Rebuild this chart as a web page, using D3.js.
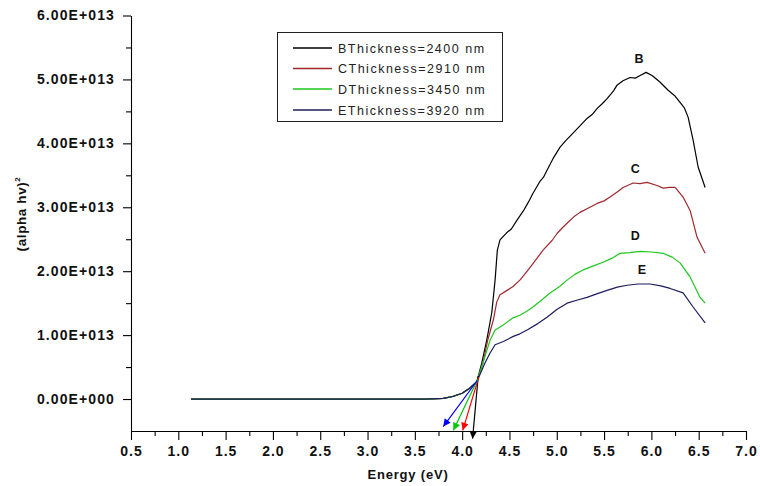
<!DOCTYPE html>
<html><head><meta charset="utf-8">
<script src="https://cdn.jsdelivr.net/npm/d3@7"></script>
<style>
body{margin:0;background:#fff;}
svg{display:block;}
</style></head>
<body><svg id="c" width="760" height="486"></svg>
<script>
// ---- data ----
const seriesNames = ["B", "C", "D", "E"];
const legendLabels = ["BThickness=2400 nm", "CThickness=2910 nm", "DThickness=3450 nm", "EThickness=3920 nm"];
const seriesColors = ["#000000", "#a0282d", "#1ec81e", "#1c1c5e"];
const arrowColors = ["#000000", "#ff0000", "#00c800", "#0000ff"];

const baseline = [[1.134,0],[2.0,0],[3.0,0],[3.6,0],[3.8,0.01],[3.9,0.04],[4.0,0.09],[4.08,0.17],[4.155,0.27]];
const seriesB = [[4.207,0.56],[4.26,0.92],[4.313,1.35],[4.348,1.86],[4.372,2.33],[4.40,2.49],[4.47,2.6],[4.52,2.66],[4.58,2.80],[4.65,2.95],[4.70,3.08],[4.749,3.22],[4.82,3.40],[4.86,3.47],[4.897,3.58],[4.96,3.76],[5.035,3.94],[5.10,4.05],[5.172,4.16],[5.25,4.28],[5.320,4.39],[5.38,4.46],[5.43,4.55],[5.48,4.62],[5.532,4.70],[5.60,4.82],[5.637,4.91],[5.70,4.98],[5.775,5.03],[5.83,5.02],[5.881,5.06],[5.944,5.11],[6.007,5.06],[6.09,4.96],[6.177,4.83],[6.25,4.74],[6.303,4.64],[6.35,4.55],[6.388,4.41],[6.441,4.05],[6.494,3.63],[6.568,3.31]];
const seriesC = [[4.22,0.56],[4.27,0.92],[4.33,1.24],[4.366,1.52],[4.40,1.63],[4.475,1.70],[4.538,1.76],[4.61,1.86],[4.66,1.95],[4.718,2.06],[4.79,2.20],[4.855,2.33],[4.95,2.48],[5.003,2.59],[5.06,2.68],[5.109,2.75],[5.18,2.85],[5.246,2.92],[5.35,3.00],[5.426,3.06],[5.50,3.10],[5.563,3.16],[5.65,3.25],[5.701,3.31],[5.807,3.38],[5.88,3.37],[5.955,3.39],[6.06,3.34],[6.124,3.30],[6.19,3.31],[6.251,3.31],[6.335,3.16],[6.409,2.95],[6.483,2.53],[6.568,2.28]];
const seriesD = [[4.24,0.66],[4.295,0.92],[4.348,1.08],[4.436,1.16],[4.538,1.27],[4.61,1.31],[4.68,1.37],[4.749,1.44],[4.85,1.56],[4.929,1.66],[5.03,1.76],[5.109,1.86],[5.19,1.95],[5.278,2.02],[5.38,2.08],[5.489,2.14],[5.58,2.20],[5.669,2.28],[5.77,2.29],[5.881,2.31],[6.0,2.30],[6.124,2.28],[6.22,2.22],[6.303,2.13],[6.409,1.91],[6.515,1.59],[6.568,1.50]];
const seriesE = [[4.24,0.56],[4.295,0.72],[4.348,0.85],[4.436,0.90],[4.54,0.98],[4.61,1.02],[4.686,1.08],[4.80,1.18],[4.897,1.28],[5.0,1.40],[5.109,1.50],[5.22,1.55],[5.320,1.59],[5.43,1.65],[5.532,1.70],[5.64,1.75],[5.743,1.78],[5.86,1.80],[5.986,1.80],[6.1,1.77],[6.198,1.73],[6.335,1.66],[6.441,1.44],[6.568,1.19]];
// tangent extrapolation arrows: [start, end] in (eV, 1e13 units)
const arrowStarts = [[4.17,0.36],[4.175,0.34],[4.165,0.31],[4.16,0.29]];
const arrowEnds = [[4.11,-0.62],[4.006,-0.49],[3.907,-0.49],[3.80,-0.43]];
// label positions for curve names (eV, 1e13 units)
const labelPos = [[5.87,5.26],[5.83,3.54],[5.83,2.49],[5.90,1.96]];
const xTicks = [0.5,1.0,1.5,2.0,2.5,3.0,3.5,4.0,4.5,5.0,5.5,6.0,6.5,7.0];
const yTicks = [0,1,2,3,4,5,6];
const yTickLabels = ["0.00E+000","1.00E+013","2.00E+013","3.00E+013","4.00E+013","5.00E+013","6.00E+013"];

// ---- drawing ----
const svg = d3.select("#c");
const x = d3.scaleLinear().domain([0.5, 7.0]).range([131, 746]);
const y = d3.scaleLinear().domain([-0.5, 6]).range([431, 15.5]);
const font = "'Liberation Sans', Arial, sans-serif";

const defs = svg.append("defs");
arrowColors.forEach((c, i) => {
  defs.append("marker").attr("id", "ah" + i)
    .attr("viewBox", "0 0 10 10").attr("refX", 10).attr("refY", 5)
    .attr("markerWidth", 9).attr("markerHeight", 7.5)
    .attr("markerUnits", "userSpaceOnUse").attr("orient", "auto")
    .append("path").attr("d", "M0,0 L10,5 L0,10 Z").attr("fill", c);
});

// axes
const xAxis = d3.axisBottom(x).tickValues(xTicks).tickFormat(d3.format(".1f")).tickSize(9).tickSizeOuter(0);
const gx = svg.append("g").attr("transform", `translate(0,${y(-0.5)})`).call(xAxis);
const xMinor = d3.axisBottom(x).tickValues(d3.range(0.75, 7.0, 0.5)).tickFormat("").tickSize(5).tickSizeOuter(0);
const gxm = svg.append("g").attr("transform", `translate(0,${y(-0.5)})`).call(xMinor);
gxm.select(".domain").remove();

const yAxis = d3.axisLeft(y).tickValues(yTicks).tickFormat((d, i) => yTickLabels[i]).tickSize(8).tickSizeOuter(0);
const gy = svg.append("g").attr("transform", `translate(${x(0.5)},0)`).call(yAxis);
const yMinor = d3.axisLeft(y).tickValues([0.5,1.5,2.5,3.5,4.5,5.5]).tickFormat("").tickSize(5).tickSizeOuter(0);
const gym = svg.append("g").attr("transform", `translate(${x(0.5)},0)`).call(yMinor);
gym.select(".domain").remove();

[gx, gy, gxm, gym].forEach(g => {
  g.selectAll(".domain, line").attr("stroke", "#000").attr("stroke-width", 1.1);
});
gx.selectAll("text").attr("font-family", font).attr("font-weight", "bold").attr("font-size", 14)
  .attr("letter-spacing", "1px").attr("fill", "#111").attr("dy", "0.95em");
gy.selectAll("text").attr("font-family", font).attr("font-weight", "bold").attr("font-size", 14)
  .attr("letter-spacing", "1.1px").attr("fill", "#111").attr("x", -16);

// axis titles
svg.append("text").attr("x", 408).attr("y", 479).attr("text-anchor", "middle")
  .attr("font-family", font).attr("font-weight", "bold").attr("font-size", 13)
  .attr("letter-spacing", "0.8px").attr("fill", "#111").text("Energy (eV)");
const yt = svg.append("text").attr("transform", "translate(26,214) rotate(-90)").attr("text-anchor", "middle")
  .attr("font-family", font).attr("font-weight", "bold").attr("font-size", 13.5)
  .attr("letter-spacing", "0.6px").attr("fill", "#111");
yt.append("tspan").text("(alpha hv)");
yt.append("tspan").attr("font-size", 8).attr("dy", -6).text("2");

// curves
const allSeries = [seriesB, seriesC, seriesD, seriesE];
const line = d3.line().x(d => x(d[0])).y(d => y(d[1]));
allSeries.forEach((s, i) => {
  svg.append("path").datum(baseline.concat(s)).attr("d", line)
    .attr("fill", "none").attr("stroke", seriesColors[i]).attr("stroke-width", 1.2)
    .attr("stroke-linejoin", "round");
});

// arrows
arrowStarts.forEach((st, i) => {
  svg.append("line").attr("x1", x(st[0])).attr("y1", y(st[1]))
    .attr("x2", x(arrowEnds[i][0])).attr("y2", y(arrowEnds[i][1]))
    .attr("stroke", arrowColors[i]).attr("stroke-width", 1.2)
    .attr("marker-end", `url(#ah${i})`);
});

// curve labels
labelPos.forEach((p, i) => {
  svg.append("text").attr("x", x(p[0])).attr("y", y(p[1])).attr("text-anchor", "middle")
    .attr("font-family", font).attr("font-weight", "bold").attr("font-size", 12.5)
    .attr("fill", "#111").text(seriesNames[i]);
});

// legend
const lg = svg.append("g");
lg.append("rect").attr("x", 277.5).attr("y", 32.5).attr("width", 225).attr("height", 89)
  .attr("fill", "#fff").attr("stroke", "#222").attr("stroke-width", 1);
const rowY = [48, 68.5, 89, 110];
legendLabels.forEach((t, i) => {
  lg.append("line").attr("x1", 293).attr("x2", 332).attr("y1", rowY[i]).attr("y2", rowY[i])
    .attr("stroke", seriesColors[i]).attr("stroke-width", 1.3);
  lg.append("text").attr("x", 338).attr("y", rowY[i] + 4.5)
    .attr("font-family", font).attr("font-size", 12.5).attr("letter-spacing", "1.5px")
    .attr("fill", "#222").text(t);
});
</script></body></html>
